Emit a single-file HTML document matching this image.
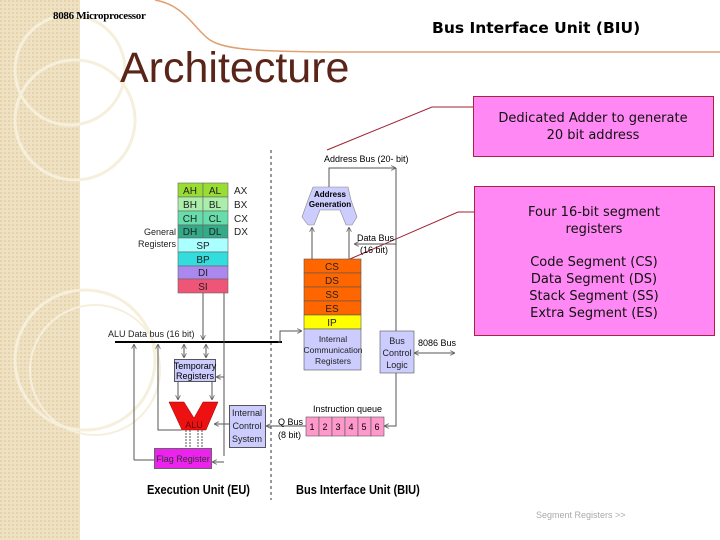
<!DOCTYPE html>
<html><head><meta charset="utf-8"><style>
html,body{margin:0;padding:0;background:#fff}
body{width:720px;height:540px;position:relative;overflow:hidden;font-family:"Liberation Sans",sans-serif}
</style></head><body>
<svg width="720" height="540" viewBox="0 0 720 540" xmlns="http://www.w3.org/2000/svg" style="position:absolute;left:0;top:0">
<defs>
<pattern id="dots" width="4" height="4" patternUnits="userSpaceOnUse"><rect width="4" height="4" fill="#efe2c4"/><rect width="2" height="2" fill="#e6d3aa"/></pattern>
<marker id="ar" viewBox="0 0 6 6" refX="6" refY="3" markerWidth="5" markerHeight="5" orient="auto-start-reverse"><path d="M0,0 L6,3 L0,6" fill="none" stroke="#666" stroke-width="1"/></marker>
</defs>
<rect x="0" y="0" width="80" height="540" fill="url(#dots)"/>
<circle cx="70" cy="70" r="55" fill="none" stroke="#f6efdc" stroke-width="3"/>
<circle cx="75" cy="120" r="60" fill="none" stroke="#f6efdc" stroke-width="3"/>
<circle cx="85" cy="360" r="70" fill="none" stroke="#f6efdc" stroke-width="3"/>
<circle cx="95" cy="370" r="65" fill="none" stroke="#f6efdc" stroke-width="2"/>
<path d="M155,0 C185,5 195,30 210,40 C225,50 260,52 360,52 L720,52" fill="none" stroke="#e0a070" stroke-width="1.5"/>
<text x="53" y="19" font-family="Liberation Serif,serif" font-size="11" font-weight="bold" letter-spacing="-0.3">8086 Microprocessor</text>
<text x="120" y="82" font-size="43" fill="#5a2418">Architecture</text>
<text x="432" y="33" font-family="DejaVu Sans,sans-serif" font-size="15.5" font-weight="bold">Bus Interface Unit (BIU)</text>

<!-- callouts -->
<polyline points="327,150 432,107 474,107" fill="none" stroke="#a02030" stroke-width="1"/>
<polyline points="350,259 458,212 474,212" fill="none" stroke="#a02030" stroke-width="1"/>
<rect x="473.5" y="96.5" width="240" height="60" fill="#ff88f4" stroke="#b02040"/>
<rect x="474.5" y="186.5" width="240" height="149" fill="#ff88f4" stroke="#b02040"/>
<g font-family="DejaVu Sans,sans-serif" font-size="13" text-anchor="middle" fill="#111">
<text x="593" y="122">Dedicated Adder to generate</text>
<text x="593" y="139">20 bit address</text>
<text x="594" y="216">Four 16-bit segment</text>
<text x="594" y="233">registers</text>
<text x="594" y="266">Code Segment (CS)</text>
<text x="594" y="283">Data Segment (DS)</text>
<text x="594" y="300">Stack Segment (SS)</text>
<text x="594" y="317">Extra Segment (ES)</text>
</g>

<!-- diagram -->
<line x1="271" y1="150" x2="271" y2="500" stroke="#333" stroke-dasharray="3,3"/>
<g font-size="10" letter-spacing="-0.5" text-anchor="middle" stroke="#666" stroke-width="0.6">
<rect x="178" y="183" width="25" height="14" fill="#99dd33"/><rect x="203" y="183" width="25" height="14" fill="#99dd33"/>
<rect x="178" y="197" width="25" height="14" fill="#aaeeaa"/><rect x="203" y="197" width="25" height="14" fill="#aaeeaa"/>
<rect x="178" y="211" width="25" height="14" fill="#66ddaa"/><rect x="203" y="211" width="25" height="14" fill="#66ddaa"/>
<rect x="178" y="225" width="25" height="13" fill="#33aa88"/><rect x="203" y="225" width="25" height="13" fill="#33aa88"/>
<rect x="178" y="238" width="50" height="14" fill="#aaffff"/>
<rect x="178" y="252" width="50" height="14" fill="#33dddd"/>
<rect x="178" y="266" width="50" height="13" fill="#aa88ee"/>
<rect x="178" y="279" width="50" height="14" fill="#ee5577"/>
</g>
<g font-size="10" text-anchor="middle" fill="#222">
<text x="190" y="194">AH</text><text x="215" y="194">AL</text>
<text x="190" y="208">BH</text><text x="215" y="208">BL</text>
<text x="190" y="222">CH</text><text x="215" y="222">CL</text>
<text x="190" y="235">DH</text><text x="215" y="235">DL</text>
<text x="203" y="249">SP</text><text x="203" y="263">BP</text>
<text x="203" y="276">DI</text><text x="203" y="290">SI</text>
</g>
<g font-size="10" fill="#222">
<text x="234" y="194">AX</text><text x="234" y="208">BX</text><text x="234" y="222">CX</text><text x="234" y="235">DX</text>
<text x="176" y="235" text-anchor="end" font-size="9">General</text>
<text x="176" y="247" text-anchor="end" font-size="9">Registers</text>
<text x="108" y="337" font-size="9">ALU Data bus (16 bit)</text>
</g>
<line x1="115" y1="342" x2="282" y2="342" stroke="#000" stroke-width="2"/>
<g stroke="#555" stroke-width="1" fill="none">
<line x1="203" y1="293" x2="203" y2="340" marker-end="url(#ar)"/>
<line x1="224" y1="293" x2="224" y2="456"/>
<line x1="224" y1="377" x2="216" y2="377" marker-end="url(#ar)"/>
<line x1="224" y1="462" x2="212" y2="462" marker-end="url(#ar)"/>
<line x1="184" y1="344" x2="184" y2="358" marker-start="url(#ar)" marker-end="url(#ar)"/>
<line x1="206" y1="344" x2="206" y2="358" marker-start="url(#ar)" marker-end="url(#ar)"/>
<line x1="178" y1="381" x2="178" y2="400" marker-end="url(#ar)"/>
<line x1="212" y1="381" x2="212" y2="400" marker-end="url(#ar)"/>
<line x1="134" y1="460" x2="134" y2="344" marker-end="url(#ar)"/>
<line x1="134" y1="460" x2="154" y2="460"/>
<polyline points="182,430 158,430 158,344" marker-end="url(#ar)"/>
<line x1="229" y1="424" x2="214" y2="424" marker-end="url(#ar)"/>
<line x1="186" y1="430" x2="186" y2="448" stroke-dasharray="2,1"/>
<line x1="190" y1="430" x2="190" y2="448" stroke-dasharray="2,1"/>
<line x1="198" y1="430" x2="198" y2="448" stroke-dasharray="2,1"/>
<line x1="202" y1="430" x2="202" y2="448" stroke-dasharray="2,1"/>
<line x1="306" y1="426" x2="266" y2="426" marker-end="url(#ar)"/>
<polyline points="278,342 280,342 280,331 302,331" marker-end="url(#ar)"/>
<polyline points="329,188 329,168 396,168" marker-end="url(#ar)"/>
<line x1="396" y1="168" x2="396" y2="331"/>
<line x1="312" y1="259" x2="312" y2="227" marker-end="url(#ar)"/>
<line x1="349" y1="259" x2="349" y2="227" marker-end="url(#ar)"/>
<line x1="354" y1="244" x2="396" y2="244" marker-start="url(#ar)"/>
<line x1="414" y1="353" x2="455" y2="353" marker-start="url(#ar)" marker-end="url(#ar)"/>
<polyline points="396,373 396,426 384,426" marker-end="url(#ar)"/>
</g>
<rect x="174.5" y="359.5" width="41" height="22" fill="#ccccff" stroke="#555"/>
<text x="195" y="369" font-size="9" text-anchor="middle">Temporary</text>
<text x="195" y="379" font-size="9" text-anchor="middle">Registers</text>
<polygon points="169,402 184,402 194,418 203,402 218,402 206,430 182,430" fill="#ee1111" stroke="#900" stroke-width="0.5"/>
<text x="194" y="428" font-size="9" text-anchor="middle" fill="#600">ALU</text>
<rect x="154.5" y="448.5" width="57" height="20" fill="#ee22ee" stroke="#666"/>
<text x="183" y="462" font-size="9" text-anchor="middle" fill="#333">Flag Register</text>
<rect x="229.5" y="405.5" width="36" height="42" fill="#ccccff" stroke="#555"/>
<g font-size="9" text-anchor="middle" fill="#222"><text x="247" y="416">Internal</text><text x="247" y="429">Control</text><text x="247" y="442">System</text></g>
<text x="278" y="425" font-size="9">Q Bus</text><text x="278" y="438" font-size="9">(8 bit)</text>
<polygon points="313,187 348,187 351,200 357,217 352,225 346,225 340,210 320,210 314,225 308,225 302,217 308,200" fill="#ccccff" stroke="#888" stroke-width="0.6"/>
<text x="330" y="197" font-size="8" font-weight="bold" text-anchor="middle">Address</text>
<text x="330" y="207" font-size="8" font-weight="bold" text-anchor="middle">Generation</text>
<text x="324" y="162" font-size="9">Address Bus (20- bit)</text>
<text x="357" y="241" font-size="9">Data Bus</text>
<text x="360" y="253" font-size="9">(16 bit)</text>
<g stroke="#555" stroke-width="0.6">
<rect x="304" y="259" width="57" height="14" fill="#ff6600"/><rect x="304" y="273" width="57" height="14" fill="#ff6600"/>
<rect x="304" y="287" width="57" height="14" fill="#ff6600"/><rect x="304" y="301" width="57" height="14" fill="#ff6600"/>
<rect x="304" y="315" width="57" height="14" fill="#ffff00"/><rect x="304" y="329" width="57" height="41" fill="#ccccff"/>
<rect x="380" y="331" width="34" height="42" fill="#ccccff"/>
</g>
<g font-size="10" text-anchor="middle" fill="#222">
<text x="332" y="270">CS</text><text x="332" y="284">DS</text><text x="332" y="298">SS</text><text x="332" y="312">ES</text><text x="332" y="326">IP</text>
</g>
<g font-size="8.5" text-anchor="middle" fill="#222"><text x="333" y="342">Internal</text><text x="333" y="353">Communication</text><text x="333" y="364">Registers</text></g>
<g font-size="9" text-anchor="middle" fill="#222"><text x="397" y="344">Bus</text><text x="397" y="356">Control</text><text x="397" y="368">Logic</text></g>
<text x="418" y="346" font-size="9">8086 Bus</text>
<text x="313" y="412" font-size="9">Instruction queue</text>
<g stroke="#555" stroke-width="0.6" fill="#ff99cc">
<rect x="306" y="417" width="13" height="19"/><rect x="319" y="417" width="13" height="19"/><rect x="332" y="417" width="13" height="19"/>
<rect x="345" y="417" width="13" height="19"/><rect x="358" y="417" width="13" height="19"/><rect x="371" y="417" width="13" height="19"/>
</g>
<g font-size="9" text-anchor="middle"><text x="312" y="430">1</text><text x="325" y="430">2</text><text x="338" y="430">3</text><text x="351" y="430">4</text><text x="364" y="430">5</text><text x="377" y="430">6</text></g>
<text x="147" y="494" font-size="13" font-weight="bold" transform="translate(147,0) scale(0.85,1) translate(-147,0)">Execution Unit (EU)</text>
<text x="296" y="494" font-size="13" font-weight="bold" transform="translate(296,0) scale(0.85,1) translate(-296,0)">Bus Interface Unit (BIU)</text>
<text x="536" y="518" font-size="9" fill="#aaa">Segment Registers &gt;&gt;</text>
</svg>
</body></html>
